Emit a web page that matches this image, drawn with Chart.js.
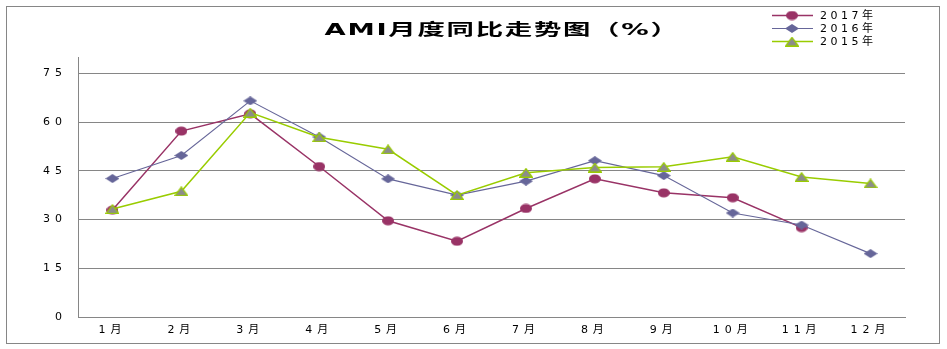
<!DOCTYPE html>
<html>
<head>
<meta charset="utf-8">
<script src="https://cdn.jsdelivr.net/npm/chart.js@4.4.0/dist/chart.umd.min.js"></script>
<style>
  html, body { margin: 0; padding: 0; background: #fff; }
  #c { display: block; }
</style>
</head>
<body>
<canvas id="c" width="947" height="349"></canvas>
<script>
// Monthly year-on-year AMI values (%)
const months = ['1月', '2月', '3月', '4月', '5月', '6月', '7月', '8月', '9月', '10月', '11月', '12月'];
const yTicks = [0, 15, 30, 45, 60, 75];
const seriesNames = ['2017年', '2016年', '2015年'];
const v2017 = [32.9, 57.2, 62.5, 46.3, 29.6, 23.3, 33.4, 42.5, 38.2, 36.7, 27.5, null];
const v2016 = [42.6, 49.7, 66.5, 55.4, 42.5, 37.5, 41.8, 48.1, 43.5, 32.0, 28.3, 19.5];
const v2015 = [33.2, 38.7, 62.9, 55.3, 51.6, 37.5, 44.4, 46.0, 46.2, 49.3, 43.1, 41.1];
const chartTitle = 'AMI月度同比走势图（%）';

const GRID = '#868686';
const C2017 = '#993366';
const C2016 = '#666699';
const C2015 = '#99CC00';

// Small bitmap markers (slightly wide shapes)
function makeMarker(kind) {
  const c = document.createElement('canvas');
  const g = c.getContext('2d');
  if (kind === 'circle') {
    c.width = 12; c.height = 10;
    g.fillStyle = C2017;
    g.beginPath();
    g.ellipse(6, 5, 6, 4.6, 0, 0, Math.PI * 2);
    g.fill();
  } else if (kind === 'diamond') {
    c.width = 14; c.height = 9;
    g.fillStyle = C2016;
    g.beginPath();
    g.moveTo(7, 0); g.lineTo(14, 4.5); g.lineTo(7, 9); g.lineTo(0, 4.5);
    g.closePath();
    g.fill();
  } else {
    c.width = 14; c.height = 10;
    g.fillStyle = '#8c8c8c';
    g.strokeStyle = C2015;
    g.lineWidth = 1.2;
    g.beginPath();
    g.moveTo(7, 0.8); g.lineTo(13.3, 9.3); g.lineTo(0.7, 9.3);
    g.closePath();
    g.fill();
    g.stroke();
  }
  return c;
}
const mCircle = makeMarker('circle');
const mDiamond = makeMarker('diamond');
const mTriangle = makeMarker('triangle');

const spacingPlugin = {
  id: 'spacing',
  beforeUpdate(chart) { chart.ctx.letterSpacing = '5px'; },
  beforeDraw(chart) {
    const ctx = chart.ctx;
    ctx.save();
    ctx.fillStyle = '#fff';
    ctx.fillRect(0, 0, chart.width, chart.height);
    ctx.strokeStyle = GRID;
    ctx.lineWidth = 1;
    ctx.strokeRect(6.5, 6.5, 933, 337);
    ctx.restore();
    ctx.letterSpacing = '5px';
  }
};

const decorPlugin = {
  id: 'decor',
  afterDraw(chart) {
    const ctx = chart.ctx;
    // title
    ctx.save();
    ctx.font = 'bold 16px "DejaVu Sans", "Noto Sans CJK SC", sans-serif';
    ctx.letterSpacing = '1px';
    ctx.fillStyle = '#000';
    ctx.textAlign = 'center';
    ctx.textBaseline = 'middle';
    const w = ctx.measureText(chartTitle).width;
    ctx.translate(502, 31);
    ctx.scale(355 / w, 1);
    ctx.fillText(chartTitle, 0, 0);
    ctx.restore();

    // legend
    const rows = [15, 28, 41];
    ctx.save();
    ctx.font = '11px "DejaVu Sans", "Noto Sans CJK SC", sans-serif';
    ctx.letterSpacing = '3.5px';
    ctx.textBaseline = 'middle';
    ctx.textAlign = 'left';
    chart.data.datasets.forEach((ds, i) => {
      const y = rows[i];
      ctx.strokeStyle = ds.borderColor;
      ctx.lineWidth = ds.borderWidth;
      ctx.beginPath();
      ctx.moveTo(772, y + 0.5);
      ctx.lineTo(813, y + 0.5);
      ctx.stroke();
      const m = ds.pointStyle;
      ctx.drawImage(m, 792 - m.width / 2, y + 0.5 - m.height / 2);
      ctx.fillStyle = '#000';
      ctx.fillText(ds.label, 820, y + 1);
    });
    ctx.restore();
  }
};

new Chart(document.getElementById('c'), {
  type: 'line',
  data: {
    labels: months,
    datasets: [
      { label: seriesNames[0], data: v2017, borderColor: C2017, borderWidth: 1.5,
        pointStyle: mCircle, order: 3 },
      { label: seriesNames[1], data: v2016, borderColor: C2016, borderWidth: 1.1,
        pointStyle: mDiamond, order: 2 },
      { label: seriesNames[2], data: v2015, borderColor: C2015, borderWidth: 1.5,
        pointStyle: mTriangle, order: 1 }
    ]
  },
  options: {
    responsive: false,
    animation: false,
    events: [],
    layout: { padding: { top: 57, right: 42, left: 0, bottom: 0 } },
    elements: { line: { tension: 0, fill: false } },
    plugins: { legend: { display: false }, title: { display: false }, tooltip: { enabled: false } },
    scales: {
      x: {
        offset: true,
        grid: { display: false, drawTicks: false },
        border: { display: true, color: GRID, width: 1 },
        ticks: { color: '#000', font: { family: '"DejaVu Sans", "Noto Sans CJK SC"', size: 11 }, padding: 7,
                 maxRotation: 0, autoSkip: false },
        afterFit(s) { s.height = 32; }
      },
      y: {
        min: 0, max: 80,
        afterBuildTicks(s) { s.ticks = yTicks.map(v => ({ value: v })); },
        grid: { color: GRID, lineWidth: 1, drawTicks: false },
        border: { display: true, color: GRID, width: 1 },
        ticks: { color: '#000', font: { family: '"DejaVu Sans"', size: 11 }, padding: 11 },
        afterFit(s) { s.width = 78; }
      }
    }
  },
  plugins: [spacingPlugin, decorPlugin]
});
</script>
</body>
</html>
